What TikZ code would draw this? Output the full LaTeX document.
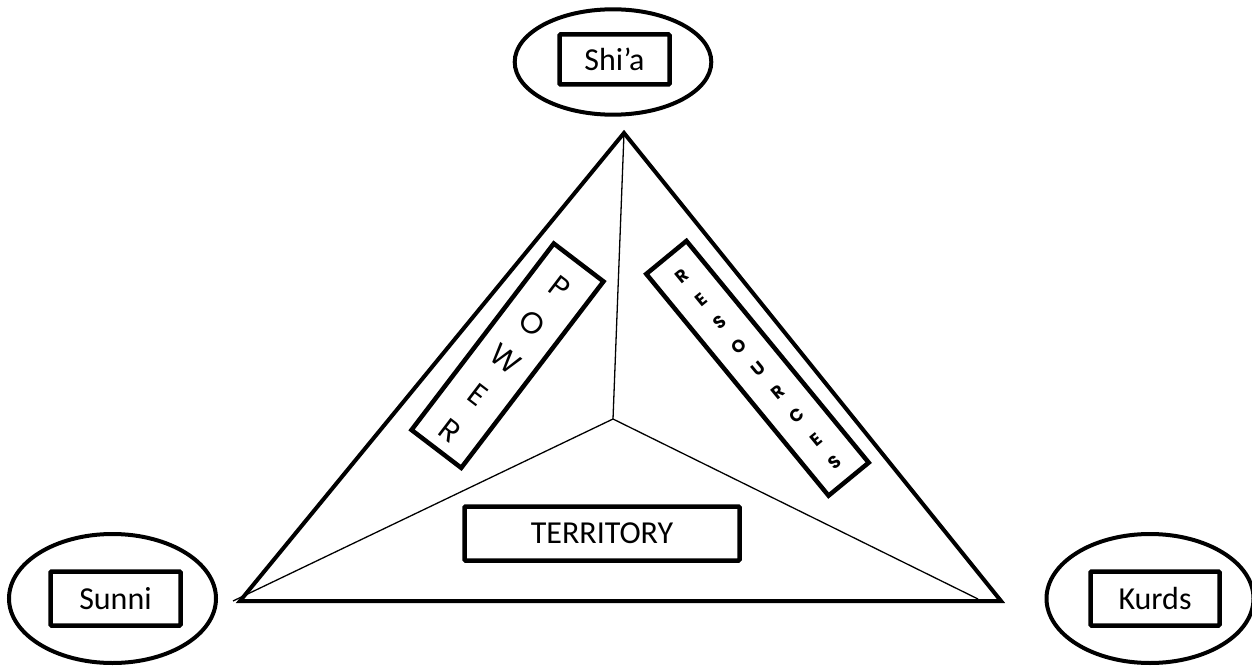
\documentclass[tikz,border=0pt]{standalone}
\usepackage{fontspec}
\setmainfont{Carlito}
\newfontfamily\geofont{Poppins}
\usetikzlibrary{shapes.geometric}

\tikzset{
  group/.style={ellipse, draw, line width=4pt, inner sep=0pt},
  label box/.style={draw, line width=4.5pt, rounded corners=1pt, inner sep=0pt,
    font=\fontsize{32}{38}\selectfont},
  frame/.style={line width=4pt, line join=miter},
  divider/.style={line width=1.3pt},
  tallbox/.style={draw, line width=4.5pt, inner sep=0pt},
  bigletter/.style={inner sep=0pt, font=\geofont\fontsize{30}{30}\selectfont},
  smallletter/.style={inner sep=0pt, font=\geofont\bfseries\fontsize{17.5}{17.5}\selectfont},
}

\begin{document}
\begin{tikzpicture}[x=1pt, y=-1pt]
  \path[use as bounding box] (0,0) rectangle (1252,668);

  % triangle and its three sectors
  \coordinate (apex) at (624,133);
  \coordinate (sw) at (240,601);
  \coordinate (se) at (1001,601);
  \coordinate (hub) at (613,419);
  \coordinate (swend) at (233,601);
  \coordinate (seend) at (978,599);
  \draw[frame] (apex) -- (sw) -- (se) -- cycle;
  \draw[divider] (hub) -- (apex);
  \draw[divider] (hub) -- (swend);
  \draw[divider] (hub) -- (seend);

  % the three groups
  \node[group, minimum width=196.6pt, minimum height=105.4pt] (shia) at (613,62) {};
  \node[label box, minimum width=110pt, minimum height=50pt] (shialabel) at (614.5,59.5) {Shi’a};

  \node[group, minimum width=207pt, minimum height=129pt] (sunni) at (112.5,598.5) {};
  \node[label box, minimum width=130pt, minimum height=54pt] (sunnilabel) at (115.5,598.5) {Sunni};

  \node[group, minimum width=207pt, minimum height=129pt] (kurds) at (1150,598.5) {};
  \node[label box, minimum width=129pt, minimum height=54pt] (kurdslabel) at (1155,598.5) {Kurds};

  % territory
  \node[label box, minimum width=275pt, minimum height=54pt] (territory) at (602,533.5) {TERRITORY};

  % power, letters stacked along the box
  \begin{scope}[shift={(507.5,355.7)}, rotate=-37.35]
    \node[tallbox, rotate=-37.35, minimum width=62.5pt, minimum height=234.5pt] (power) at (0,0) {};
    \foreach \ch [count=\i from 0] in {P,O,W,E,R}
      \node[bigletter, rotate=-37.35] (pow-\i) at (0,-86+45*\i) {\ch};
  \end{scope}

  % resources, letters stacked along the box
  \begin{scope}[shift={(757.5,368.3)}, rotate=39.43]
    \node[tallbox, rotate=39.43, minimum width=52pt, minimum height=287pt] (resources) at (0,0) {};
    \foreach \ch [count=\i from 0] in {R,E,S,O,U,R,C,E,S}
      \node[smallletter, rotate=39.43] (res-\i) at (0,-119.5+30.2*\i) {\ch};
  \end{scope}
\end{tikzpicture}
\end{document}
